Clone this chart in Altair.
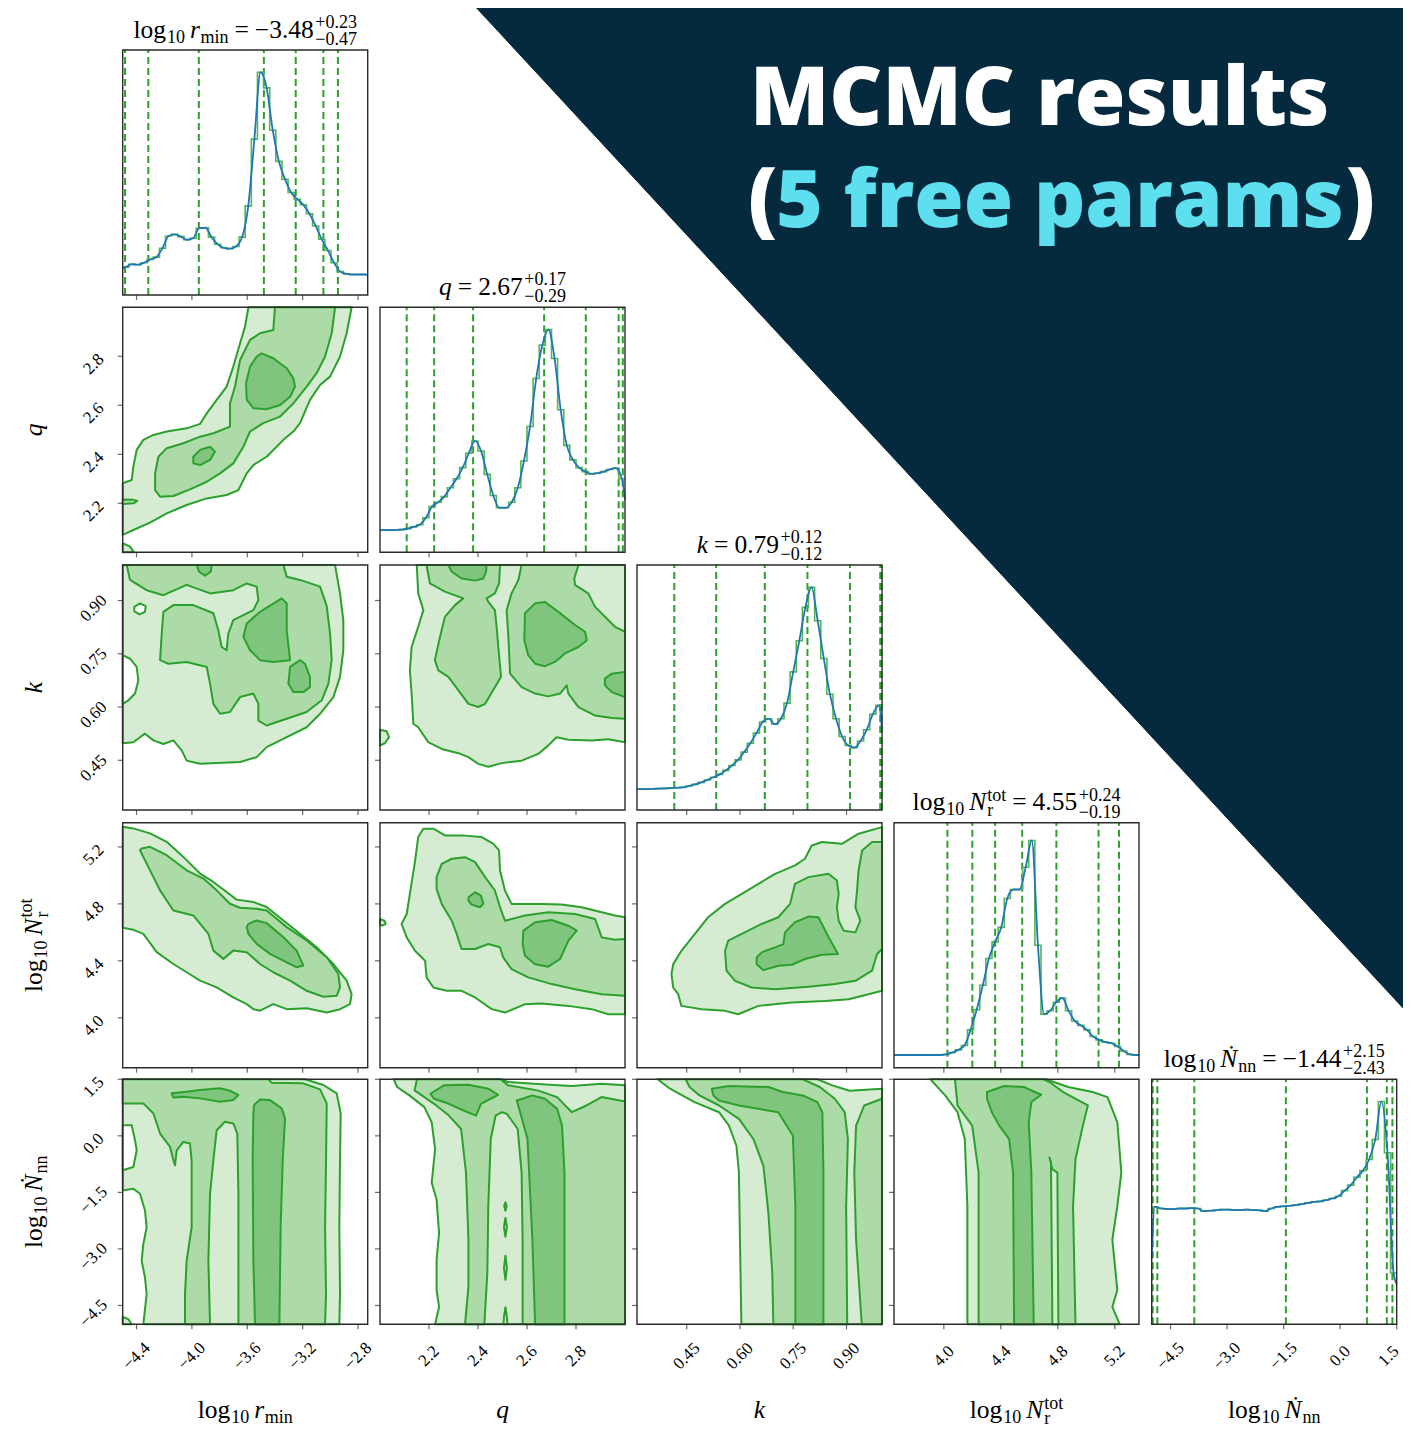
import altair as alt
import numpy as np
import pandas as pd

# ---------------- layout ----------------
W, H = 1395, 1420
PANEL = 245.0
COL_LEFT = [114.7, 372.0, 629.0, 886.0, 1143.7]
ROW_TOP = [42.0, 299.3, 557.0, 814.7, 1071.3]

NAVY = "#05293d"
CYAN = "#5ddff0"
FILLS = {"light": "#d5ecd2", "hole": "#ffffff", "medium": "#acdba8",
         "lightover": "#d5ecd2", "dark": "#80c57e"}
EDGE = "#2ca02c"
STEP = "#55b455"
KDE = "#1f77b4"
FRAME = "#2b2b2b"
SERIF = "Liberation Serif"
SANS = "Open Sans"

# ---------------- data ----------------
DOMAINS = [[-4.5, -2.73], [2.0, 3.0], [0.31, 1.0], [3.65, 5.37], [-5.0, 1.5]]
TICKS = [[-4.4, -4.0, -3.6, -3.2, -2.8],
         [2.2, 2.4, 2.6, 2.8],
         [0.45, 0.60, 0.75, 0.90],
         [4.0, 4.4, 4.8, 5.2],
         [-4.5, -3.0, -1.5, 0.0, 1.5]]
TICK_DECIMALS = [1, 1, 2, 1, 1]

MEDIAN = [-3.48, 2.67, 0.79, 4.55, -1.44]
ERR_PLUS = [0.23, 0.17, 0.12, 0.24, 2.15]
ERR_MINUS = [0.47, 0.29, 0.12, 0.19, 2.43]

VLINES = [
    [-4.483, -4.315, -3.95, -3.48, -3.25, -3.05, -2.945],
    [2.109, 2.221, 2.38, 2.67, 2.84, 2.974, 2.991],
    [0.415, 0.533, 0.67, 0.79, 0.91, 0.995, 0.999],
    [4.025, 4.20, 4.36, 4.55, 4.79, 5.086, 5.23],
    [-4.973, -4.85, -3.87, -1.44, 0.71, 1.238, 1.386],
]

HIST_RMIN = [0.125, 0.138, 0.136, 0.145, 0.16, 0.17, 0.21, 0.265, 0.272, 0.262,
             0.248, 0.255, 0.30, 0.302, 0.26, 0.228, 0.212, 0.208, 0.218, 0.26,
             0.40, 0.70, 1.0, 0.93, 0.74, 0.60, 0.52, 0.46, 0.43, 0.405,
             0.365, 0.31, 0.25, 0.20, 0.145, 0.105, 0.095, 0.092, 0.092, 0.092]
HIST_Q = [0.10, 0.10, 0.10, 0.102, 0.106, 0.114, 0.124, 0.155, 0.205, 0.225,
          0.25, 0.29, 0.33, 0.38, 0.445, 0.50, 0.455, 0.35, 0.255, 0.20,
          0.20, 0.225, 0.29, 0.41, 0.565, 0.78, 0.93, 1.0, 0.87, 0.64,
          0.48, 0.415, 0.38, 0.362, 0.352, 0.355, 0.362, 0.372, 0.378, 0.33]
HIST_K = [0.094, 0.094, 0.095, 0.096, 0.097, 0.098, 0.10, 0.102, 0.108, 0.115,
          0.124, 0.135, 0.147, 0.16, 0.178, 0.20, 0.225, 0.26, 0.30, 0.345,
          0.395, 0.41, 0.385, 0.41, 0.48, 0.62, 0.76, 0.91, 1.0, 0.85,
          0.68, 0.52, 0.41, 0.33, 0.29, 0.28, 0.31, 0.36, 0.43, 0.47]
HIST_NR = [0.057, 0.057, 0.057, 0.057, 0.057, 0.057, 0.057, 0.057, 0.06, 0.068,
           0.08, 0.10, 0.17, 0.26, 0.37, 0.49, 0.565, 0.63, 0.76, 0.80,
           0.80, 0.90, 1.02, 0.55, 0.24, 0.256, 0.294, 0.313, 0.256, 0.21,
           0.19, 0.17, 0.14, 0.125, 0.115, 0.11, 0.095, 0.075, 0.06, 0.057]
HIST_ND = [0.528, 0.52, 0.518, 0.517, 0.52, 0.52, 0.522, 0.52, 0.508, 0.51,
           0.512, 0.515, 0.515, 0.513, 0.513, 0.515, 0.513, 0.512, 0.508, 0.52,
           0.527, 0.53, 0.532, 0.535, 0.54, 0.545, 0.55, 0.552, 0.558, 0.565,
           0.575, 0.60, 0.625, 0.66, 0.69, 0.74, 0.83, 1.0, 0.77, 0.23]
HISTS = [HIST_RMIN, HIST_Q, HIST_K, HIST_NR, HIST_ND]
# smoothed-curve values at the left and right panel edges
KDE_EDGES = [(0.12, 0.09), (0.10, 0.236), (0.094, 0.355), (0.057, 0.057), (0.30, 0.18)]
HIST_TOP = 1.1

# contour regions: (level, [(x, y), ...]) in data units
CONTOURS = {
    (1, 0): [
        ("light", [(-4.5, 2.071), (-4.423, 2.091), (-4.303, 2.121), (-4.182, 2.159), (-4.038, 2.193),
                   (-3.893, 2.220), (-3.749, 2.234), (-3.664, 2.254), (-3.604, 2.322), (-3.556, 2.356),
                   (-3.460, 2.390), (-3.339, 2.459), (-3.267, 2.493), (-3.219, 2.527), (-3.147, 2.622),
                   (-3.074, 2.683), (-3.002, 2.717), (-2.930, 2.799), (-2.882, 2.894), (-2.846, 3.0),
                   (-3.592, 3.0), (-3.616, 2.921), (-3.652, 2.853), (-3.701, 2.758), (-3.749, 2.676),
                   (-3.821, 2.622), (-3.893, 2.567), (-3.941, 2.524), (-4.038, 2.506), (-4.182, 2.493),
                   (-4.278, 2.479), (-4.351, 2.459), (-4.399, 2.418), (-4.423, 2.350), (-4.435, 2.295),
                   (-4.5, 2.282)]),
        ("light", [(-4.5, 2.037), (-4.447, 2.023), (-4.418, 2.0), (-4.5, 2.0)]),
        ("medium", [(-4.5, 2.216), (-4.423, 2.214), (-4.394, 2.210), (-4.423, 2.200), (-4.5, 2.197)]),
        ("medium", [(-3.400, 3.0), (-3.412, 2.907), (-3.508, 2.894), (-3.580, 2.867), (-3.652, 2.785),
                    (-3.689, 2.676), (-3.725, 2.608), (-3.725, 2.513), (-3.845, 2.486), (-3.941, 2.472),
                    (-4.062, 2.445), (-4.182, 2.425), (-4.242, 2.390), (-4.266, 2.322), (-4.266, 2.254),
                    (-4.230, 2.227), (-4.134, 2.230), (-4.014, 2.257), (-3.893, 2.288), (-3.797, 2.322),
                    (-3.701, 2.363), (-3.628, 2.431), (-3.580, 2.493), (-3.484, 2.527), (-3.363, 2.554),
                    (-3.267, 2.608), (-3.171, 2.676), (-3.099, 2.731), (-3.038, 2.799), (-2.990, 2.894),
                    (-2.966, 3.0)]),
        ("dark", [(-3.496, 2.812), (-3.412, 2.792), (-3.315, 2.751), (-3.267, 2.710), (-3.255, 2.676),
                  (-3.291, 2.635), (-3.363, 2.601), (-3.460, 2.584), (-3.556, 2.588), (-3.604, 2.622),
                  (-3.609, 2.690), (-3.580, 2.758), (-3.532, 2.799)]),
        ("dark", [(-3.990, 2.390), (-3.941, 2.418), (-3.869, 2.431), (-3.833, 2.411), (-3.869, 2.377),
                  (-3.941, 2.356), (-3.990, 2.363)]),
    ],
    (2, 0): [
        ("light", [(-4.5, 1.0), (-2.966, 1.0), (-2.930, 0.920), (-2.906, 0.845), (-2.906, 0.760),
                   (-2.930, 0.685), (-2.978, 0.628), (-3.074, 0.581), (-3.171, 0.543), (-3.315, 0.515),
                   (-3.460, 0.487), (-3.532, 0.459), (-3.652, 0.445), (-3.941, 0.440), (-4.038, 0.449),
                   (-4.074, 0.478), (-4.134, 0.506), (-4.206, 0.496), (-4.278, 0.506), (-4.339, 0.525),
                   (-4.375, 0.515), (-4.423, 0.501), (-4.5, 0.498)]),
        ("hole", [(-4.5, 0.746), (-4.447, 0.736), (-4.399, 0.713), (-4.387, 0.675), (-4.411, 0.638),
                  (-4.459, 0.619), (-4.5, 0.609)]),
        ("hole", [(-4.416, 0.882), (-4.375, 0.892), (-4.334, 0.884), (-4.339, 0.868), (-4.380, 0.861),
                  (-4.416, 0.870)]),
        ("medium", [(-4.471, 1.0), (-4.447, 0.958), (-4.327, 0.929), (-4.206, 0.915), (-4.038, 0.944),
                    (-3.869, 0.920), (-3.701, 0.929), (-3.604, 0.948), (-3.532, 0.939), (-3.520, 0.901),
                    (-3.556, 0.873), (-3.701, 0.845), (-3.737, 0.807), (-3.749, 0.760), (-3.785, 0.769),
                    (-3.809, 0.816), (-3.845, 0.864), (-3.990, 0.887), (-4.134, 0.887), (-4.206, 0.868),
                    (-4.218, 0.807), (-4.230, 0.732), (-4.170, 0.722), (-4.038, 0.727), (-3.893, 0.713),
                    (-3.869, 0.666), (-3.845, 0.609), (-3.797, 0.581), (-3.725, 0.586), (-3.652, 0.628),
                    (-3.556, 0.638), (-3.520, 0.609), (-3.520, 0.562), (-3.460, 0.548), (-3.315, 0.567),
                    (-3.171, 0.586), (-3.062, 0.619), (-3.014, 0.666), (-2.990, 0.732), (-3.002, 0.807),
                    (-3.026, 0.884), (-3.074, 0.939), (-3.219, 0.958), (-3.315, 0.967), (-3.339, 1.0)]),
        ("dark", [(-3.604, 0.835), (-3.508, 0.868), (-3.351, 0.906), (-3.315, 0.892), (-3.315, 0.816),
                  (-3.291, 0.732), (-3.412, 0.727), (-3.508, 0.732), (-3.580, 0.760), (-3.628, 0.798)]),
        ("dark", [(-3.219, 0.732), (-3.183, 0.722), (-3.147, 0.685), (-3.147, 0.656), (-3.195, 0.642),
                  (-3.267, 0.642), (-3.303, 0.666), (-3.291, 0.713)]),
        ("dark", [(-3.965, 1.0), (-3.949, 0.981), (-3.905, 0.970), (-3.864, 0.981), (-3.857, 1.0)]),
    ],
    (3, 0): [
        ("light", [(-4.5, 5.342), (-4.423, 5.330), (-4.303, 5.295), (-4.182, 5.236), (-4.062, 5.130),
                   (-3.941, 5.013), (-3.845, 4.954), (-3.749, 4.884), (-3.677, 4.830), (-3.556, 4.813),
                   (-3.460, 4.778), (-3.339, 4.684), (-3.219, 4.590), (-3.099, 4.496), (-2.978, 4.378),
                   (-2.882, 4.261), (-2.846, 4.167), (-2.858, 4.096), (-2.930, 4.061), (-3.026, 4.038),
                   (-3.171, 4.068), (-3.315, 4.061), (-3.412, 4.096), (-3.508, 4.050), (-3.556, 4.061),
                   (-3.604, 4.096), (-3.701, 4.143), (-3.821, 4.214), (-3.941, 4.261), (-4.038, 4.320),
                   (-4.134, 4.378), (-4.254, 4.461), (-4.351, 4.590), (-4.423, 4.618), (-4.5, 4.632)]),
        ("medium", [(-4.363, 5.189), (-4.303, 5.201), (-4.182, 5.142), (-4.038, 5.036), (-3.917, 4.978),
                    (-3.821, 4.895), (-3.725, 4.801), (-3.652, 4.773), (-3.532, 4.766), (-3.460, 4.754),
                    (-3.315, 4.637), (-3.171, 4.543), (-3.026, 4.426), (-2.942, 4.308), (-2.930, 4.214),
                    (-2.954, 4.155), (-3.050, 4.148), (-3.171, 4.190), (-3.291, 4.261), (-3.412, 4.320),
                    (-3.508, 4.378), (-3.604, 4.461), (-3.701, 4.472), (-3.773, 4.414), (-3.845, 4.472),
                    (-3.881, 4.590), (-3.990, 4.719), (-4.134, 4.754), (-4.230, 4.895), (-4.327, 5.083),
                    (-4.375, 5.177)]),
        ("dark", [(-3.592, 4.660), (-3.532, 4.684), (-3.460, 4.665), (-3.339, 4.566), (-3.243, 4.472),
                  (-3.195, 4.367), (-3.243, 4.355), (-3.315, 4.390), (-3.436, 4.449), (-3.532, 4.519),
                  (-3.592, 4.590), (-3.604, 4.637)]),
    ],
    (4, 0): [
        ("light", [(-4.5, 1.5), (-3.183, 1.5), (-3.050, 1.349), (-2.954, 1.127), (-2.925, 0.594),
                   (-2.930, -0.649), (-2.935, -2.425), (-2.930, -4.201), (-2.935, -5.0), (-4.351, -5.0),
                   (-4.327, -4.201), (-4.339, -3.757), (-4.363, -3.313), (-4.351, -2.869), (-4.327, -2.425),
                   (-4.339, -1.981), (-4.375, -1.537), (-4.423, -1.404), (-4.5, -1.448)]),
        ("light", [(-4.5, -4.805), (-4.459, -4.867), (-4.435, -5.0), (-4.5, -5.0)]),
        ("hole", [(-4.5, 0.283), (-4.435, 0.283), (-4.411, -0.116), (-4.399, -0.383), (-4.423, -0.827),
                  (-4.5, -0.915)]),
        ("medium", [(-4.5, 1.5), (-3.448, 1.5), (-3.424, 1.411), (-3.195, 1.393), (-3.074, 1.234),
                    (-3.026, 0.861), (-3.031, -0.649), (-3.038, -2.425), (-3.031, -4.201), (-3.038, -5.0),
                    (-3.664, -5.0), (-3.664, -3.313), (-3.664, -1.537), (-3.672, 0.061), (-3.701, 0.328),
                    (-3.761, 0.372), (-3.821, 0.150), (-3.845, -0.649), (-3.869, -1.537), (-3.881, -3.313),
                    (-3.869, -5.0), (-4.050, -5.0), (-4.050, -4.201), (-4.038, -3.313), (-4.002, -2.425),
                    (-4.002, -0.649), (-4.014, -0.205), (-4.062, -0.161), (-4.110, -0.383), (-4.122, -0.782),
                    (-4.134, -0.649), (-4.158, -0.294), (-4.230, 0.061), (-4.278, 0.594), (-4.351, 0.861),
                    (-4.5, 0.861)]),
        ("dark", [(-3.551, 0.816), (-3.508, 0.967), (-3.436, 0.949), (-3.351, 0.727), (-3.327, 0.461),
                  (-3.344, -0.649), (-3.359, -2.425), (-3.368, -5.0), (-3.544, -5.0), (-3.556, -3.313),
                  (-3.561, -0.649), (-3.556, 0.594)]),
        ("dark", [(-4.146, 1.127), (-4.038, 1.171), (-3.941, 1.216), (-3.797, 1.260), (-3.725, 1.198),
                  (-3.664, 1.083), (-3.701, 0.949), (-3.797, 0.905), (-3.941, 0.994), (-4.062, 1.038),
                  (-4.134, 1.020)]),
    ],
    (2, 1): [
        ("light", [(2.150, 1.0), (3.0, 1.0), (3.0, 0.501), (2.932, 0.509), (2.864, 0.506), (2.769, 0.508),
                   (2.721, 0.515), (2.687, 0.492), (2.646, 0.468), (2.578, 0.449), (2.497, 0.442),
                   (2.442, 0.432), (2.401, 0.440), (2.361, 0.459), (2.320, 0.470), (2.252, 0.482),
                   (2.197, 0.501), (2.156, 0.543), (2.136, 0.553), (2.129, 0.638), (2.122, 0.703),
                   (2.129, 0.769), (2.156, 0.826), (2.177, 0.873), (2.156, 0.920)]),
        ("light", [(2.0, 0.536), (2.027, 0.532), (2.037, 0.515), (2.020, 0.498), (2.0, 0.492)]),
        ("medium", [(2.190, 1.0), (2.204, 0.948), (2.265, 0.925), (2.340, 0.906), (2.306, 0.887),
                    (2.265, 0.854), (2.245, 0.798), (2.224, 0.732), (2.238, 0.703), (2.279, 0.685),
                    (2.320, 0.647), (2.361, 0.609), (2.401, 0.600), (2.429, 0.609), (2.469, 0.656),
                    (2.494, 0.685), (2.483, 0.769), (2.476, 0.826), (2.469, 0.873), (2.442, 0.896),
                    (2.435, 0.906), (2.469, 0.920), (2.486, 0.948), (2.490, 1.0)]),
        ("medium", [(2.578, 1.0), (2.565, 0.958), (2.537, 0.920), (2.517, 0.873), (2.524, 0.798),
                    (2.531, 0.694), (2.578, 0.656), (2.633, 0.638), (2.687, 0.630), (2.735, 0.638),
                    (2.762, 0.661), (2.769, 0.638), (2.810, 0.600), (2.878, 0.576), (2.946, 0.569),
                    (3.0, 0.567), (3.0, 0.812), (2.959, 0.826), (2.878, 0.882), (2.850, 0.920),
                    (2.796, 0.944), (2.793, 0.962), (2.810, 1.0)]),
        ("dark", [(2.279, 1.0), (2.293, 0.981), (2.333, 0.962), (2.388, 0.956), (2.422, 0.962),
                  (2.433, 0.981), (2.435, 1.0)]),
        ("dark", [(2.592, 0.864), (2.633, 0.892), (2.673, 0.896), (2.728, 0.868), (2.796, 0.831),
                  (2.837, 0.812), (2.844, 0.788), (2.810, 0.769), (2.755, 0.751), (2.714, 0.727),
                  (2.673, 0.715), (2.633, 0.722), (2.605, 0.746), (2.589, 0.788)]),
        ("dark", [(3.0, 0.699), (2.946, 0.694), (2.918, 0.680), (2.918, 0.661), (2.946, 0.642), (3.0, 0.628)]),
    ],
    (3, 1): [
        ("light", [(2.143, 5.10), (2.156, 5.269), (2.177, 5.328), (2.218, 5.328), (2.265, 5.281),
                   (2.333, 5.281), (2.415, 5.269), (2.463, 5.222), (2.486, 5.175), (2.490, 5.034),
                   (2.510, 4.894), (2.537, 4.800), (2.660, 4.800), (2.741, 4.795), (2.823, 4.776),
                   (2.905, 4.741), (2.959, 4.718), (3.0, 4.706), (3.0, 4.025), (2.932, 4.025),
                   (2.864, 4.061), (2.769, 4.084), (2.660, 4.101), (2.592, 4.096), (2.510, 4.037),
                   (2.456, 4.061), (2.388, 4.143), (2.333, 4.190), (2.272, 4.190), (2.218, 4.213),
                   (2.190, 4.284), (2.184, 4.401), (2.143, 4.471), (2.109, 4.565), (2.088, 4.659),
                   (2.109, 4.729), (2.122, 4.870)]),
        ("light", [(2.0, 4.694), (2.018, 4.682), (2.023, 4.659), (2.007, 4.647), (2.0, 4.652)]),
        ("medium", [(2.231, 4.988), (2.252, 5.081), (2.293, 5.117), (2.347, 5.128), (2.388, 5.093),
                    (2.429, 4.988), (2.469, 4.894), (2.490, 4.776), (2.510, 4.682), (2.592, 4.718),
                    (2.687, 4.741), (2.796, 4.729), (2.878, 4.694), (2.905, 4.565), (2.959, 4.549),
                    (3.0, 4.553), (3.0, 4.155), (2.905, 4.166), (2.796, 4.201), (2.701, 4.237),
                    (2.605, 4.284), (2.537, 4.342), (2.503, 4.424), (2.490, 4.495), (2.442, 4.518),
                    (2.388, 4.483), (2.333, 4.483), (2.313, 4.589), (2.293, 4.682), (2.252, 4.800),
                    (2.231, 4.905)]),
        ("dark", [(2.585, 4.612), (2.633, 4.671), (2.701, 4.687), (2.769, 4.647), (2.803, 4.612),
                  (2.769, 4.542), (2.735, 4.413), (2.687, 4.359), (2.633, 4.377), (2.592, 4.436),
                  (2.582, 4.518)]),
        ("dark", [(2.361, 4.847), (2.388, 4.882), (2.412, 4.858), (2.422, 4.800), (2.408, 4.776),
                  (2.374, 4.795), (2.361, 4.823)]),
    ],
    (3, 2): [
        ("light", [(0.407, 4.307), (0.412, 4.377), (0.435, 4.471), (0.473, 4.589), (0.510, 4.706),
                   (0.558, 4.800), (0.605, 4.870), (0.652, 4.941), (0.699, 5.011), (0.755, 5.070),
                   (0.783, 5.117), (0.802, 5.210), (0.831, 5.234), (0.887, 5.222), (0.934, 5.293),
                   (1.0, 5.339), (1.0, 4.190), (0.962, 4.166), (0.906, 4.131), (0.840, 4.119),
                   (0.746, 4.108), (0.652, 4.084), (0.595, 4.025), (0.558, 4.049), (0.492, 4.061),
                   (0.435, 4.084), (0.426, 4.166), (0.412, 4.213)]),
        ("medium", [(0.558, 4.471), (0.567, 4.542), (0.605, 4.589), (0.661, 4.659), (0.708, 4.706),
                    (0.741, 4.800), (0.755, 4.941), (0.793, 4.988), (0.849, 5.011), (0.873, 4.964),
                    (0.878, 4.870), (0.873, 4.776), (0.878, 4.682), (0.892, 4.612), (0.925, 4.600),
                    (0.939, 4.682), (0.925, 4.776), (0.929, 4.870), (0.934, 5.034), (0.944, 5.175),
                    (0.972, 5.234), (1.0, 5.234), (1.0, 4.483), (0.986, 4.448), (0.972, 4.331),
                    (0.925, 4.260), (0.868, 4.237), (0.793, 4.218), (0.699, 4.201), (0.633, 4.213),
                    (0.586, 4.260), (0.562, 4.331)]),
        ("dark", [(0.647, 4.424), (0.661, 4.460), (0.699, 4.495), (0.722, 4.518), (0.727, 4.600),
                  (0.755, 4.671), (0.793, 4.711), (0.821, 4.706), (0.845, 4.589), (0.863, 4.506),
                  (0.876, 4.448), (0.831, 4.443), (0.783, 4.413), (0.746, 4.373), (0.708, 4.366),
                  (0.666, 4.335), (0.647, 4.377)]),
    ],
    (4, 1): [
        ("light", [(2.056, 1.5), (2.492, 1.5), (2.522, 1.429), (2.693, 1.358), (2.783, 1.322),
                   (2.904, 1.384), (3.0, 1.340), (3.0, -5.0), (2.225, -5.0), (2.241, -4.537),
                   (2.231, -4.092), (2.231, -3.290), (2.241, -2.578), (2.231, -1.688), (2.211, -1.242),
                   (2.225, -0.352), (2.211, 0.360), (2.181, 0.761), (2.120, 1.073), (2.070, 1.295)]),
        ("medium", [(2.151, 1.5), (2.492, 1.5), (2.522, 1.34), (2.643, 1.206), (2.723, 1.028),
                    (2.783, 0.627), (2.843, 0.805), (2.904, 1.028), (3.0, 0.912), (3.0, -5.0),
                    (2.582, -5.0), (2.582, -2.756), (2.578, -0.975), (2.562, 0.182), (2.518, 0.583),
                    (2.498, 0.627), (2.472, 0.538), (2.452, -0.085), (2.442, -1.866), (2.438, -3.647),
                    (2.426, -5.0), (2.347, -5.0), (2.361, -4.0), (2.361, -2.756), (2.351, -0.975),
                    (2.331, 0.182), (2.281, 0.538), (2.221, 0.850), (2.141, 1.206)]),
        ("lightover", [(2.512, -1.76), (2.517, -1.87), (2.512, -1.99), (2.507, -1.87)]),
        ("lightover", [(2.512, -2.18), (2.518, -2.42), (2.512, -2.68), (2.506, -2.42)]),
        ("lightover", [(2.512, -3.18), (2.518, -3.5), (2.512, -3.82), (2.506, -3.5)]),
        ("lightover", [(2.512, -4.55), (2.518, -4.8), (2.52, -5.0), (2.504, -5.0), (2.506, -4.8)]),
        ("dark", [(2.582, 0.984), (2.622, 1.073), (2.673, 0.984), (2.723, 0.716), (2.743, 0.271),
                  (2.753, -0.975), (2.753, -5.0), (2.633, -5.0), (2.622, -2.756), (2.602, -0.085),
                  (2.572, 0.627), (2.558, 0.939)]),
        ("dark", [(2.205, 1.117), (2.261, 1.340), (2.361, 1.358), (2.442, 1.251), (2.482, 1.090),
                  (2.452, 0.984), (2.412, 0.850), (2.392, 0.538), (2.341, 0.672), (2.281, 0.850),
                  (2.221, 0.984)]),
    ],
    (4, 2): [
        ("light", [(0.368, 1.5), (0.818, 1.5), (0.860, 1.340), (0.909, 1.198), (1.0, 1.251), (1.0, -5.0),
                   (0.604, -5.0), (0.600, -2.756), (0.597, -0.975), (0.590, -0.263), (0.569, 0.271),
                   (0.541, 0.627), (0.472, 0.895), (0.403, 1.251)]),
        ("medium", [(0.447, 1.5), (0.777, 1.5), (0.825, 1.295), (0.867, 0.984), (0.895, 0.627),
                    (0.904, -0.085), (0.899, -1.866), (0.902, -5.0), (0.694, -5.0), (0.691, -3.647),
                    (0.680, -2.044), (0.673, -1.421), (0.666, -0.797), (0.638, -0.085), (0.597, 0.449),
                    (0.541, 0.805), (0.486, 1.073), (0.458, 1.295)]),
        ("medium", [(1.0, 0.984), (0.950, 0.805), (0.927, 0.271), (0.922, -0.975), (0.927, -2.756),
                    (0.943, -5.0), (1.0, -5.0)]),
        ("dark", [(0.521, 1.251), (0.569, 1.322), (0.680, 1.295), (0.721, 1.162), (0.777, 1.073),
                  (0.818, 0.895), (0.832, 0.627), (0.835, -0.975), (0.835, -5.0), (0.756, -5.0),
                  (0.756, -1.866), (0.749, 0.004), (0.708, 0.627), (0.597, 0.805), (0.541, 0.939),
                  (0.525, 1.073)]),
    ],
    (4, 3): [
        ("light", [(3.906, 1.5), (4.717, 1.5), (4.873, 1.295), (5.045, 1.162), (5.149, 1.028),
                   (5.218, 0.360), (5.246, -0.975), (5.218, -1.866), (5.183, -2.756), (5.218, -4.092),
                   (5.183, -4.537), (5.235, -5.0), (4.165, -5.0), (4.165, -1.866), (4.147, -0.085),
                   (4.096, 0.627), (4.009, 1.073)]),
        ("medium", [(4.078, 1.5), (4.700, 1.5), (4.741, 1.429), (4.838, 1.162), (5.011, 0.805),
                    (4.976, 0.271), (4.924, -0.619), (4.907, -1.866), (4.924, -5.0), (4.244, -5.0),
                    (4.244, -0.975), (4.199, 0.271), (4.096, 0.805)]),
        ("lightover", [(4.741, -0.575), (4.762, -0.886), (4.797, -0.975), (4.804, -5.0), (4.762, -5.0),
                       (4.752, -0.7)]),
        ("dark", [(4.303, 1.162), (4.424, 1.322), (4.562, 1.295), (4.683, 1.090), (4.614, 0.895),
                  (4.596, 0.360), (4.614, -0.975), (4.631, -5.0), (4.493, -5.0), (4.486, -0.975),
                  (4.458, -0.085), (4.389, 0.271), (4.337, 0.627), (4.303, 0.984)]),
    ],
}

BIG_TEXT = [
    ("MCMC results", 0.5319, 0.0824, "white", "left", 82),
    ("(", 0.5305, 0.1542, "white", "left", 82),
    ("5 free params", 0.5505, 0.1542, CYAN, "left", 80),
    (")", 0.9799, 0.1542, "white", "right", 82),
]
TRIANGLE = [(0.3359, 0.0), (1.0, 0.0), (1.0, 0.7042)]

# ---------------- math-label typesetting ----------------
MAIN, SUB = 25.5, 18.0
TICK_FONT = 17
CW = {".": 0.25, "+": 0.564, "−": 0.564, "=": 0.564, "l": 0.278, "o": 0.5, "g": 0.5, "m": 0.778,
      "i": 0.278, "n": 0.5, "t": 0.278, "r": 0.333, " ": 0.25}
CW_IT = {"r": 0.389, "q": 0.5, "k": 0.444, "N": 0.667, "Ṅ": 0.667}


def tw(s, size, it=False):
    return size * sum((CW_IT[ch] if (it and ch in CW_IT) else CW.get(ch, 0.5)) for ch in s)


def T(s, it=False):
    return ("t", s, it, MAIN, 0.0)


def S(s):
    return ("t", s, False, SUB, 5.0)


def G(px):
    return ("g", px)


def STACK(hi, lo, hs, ls):
    return ("s", hi, lo, SUB, hs, ls)


def var_spec(c):
    if c == 0:
        return [T("log"), G(1), S("10"), G(5), T("r", True), G(0.5), S("min")]
    if c == 1:
        return [T("q", True)]
    if c == 2:
        return [T("k", True)]
    if c == 3:
        return [T("log"), G(1), S("10"), G(5), T("N", True), G(1), STACK("tot", "r", -9.5, 6.0)]
    return [T("log"), G(1), S("10"), G(5), T("Ṅ", True), G(1), S("nn")]


def typeset(spec):
    segs, x = [], 0.0
    for item in spec:
        if item[0] == "g":
            x += item[1]
        elif item[0] == "t":
            _, s, it, size, sh = item
            segs.append((s, x, sh, size, it))
            x += tw(s, size, it)
        else:
            _, hi, lo, size, hs, ls = item
            segs.append((hi, x, hs, size, False))
            segs.append((lo, x, ls, size, False))
            x += max(tw(hi, size), tw(lo, size))
    return segs, x


def num_str(v):
    return ("−" if v < 0 else "") + f"{abs(v):.2f}"


def tick_str(v, d):
    return f"{v:.{d}f}".replace("-", "−")


# ---------------- helpers ----------------
def xscale(c):
    return alt.Scale(domain=DOMAINS[c], range=[COL_LEFT[c], COL_LEFT[c] + PANEL], nice=False, zero=False)


def yscale(r, hist=False):
    dom = [0.0, HIST_TOP] if hist else DOMAINS[r]
    return alt.Scale(domain=dom, range=[ROW_TOP[r] + PANEL, ROW_TOP[r]], nice=False, zero=False)


def enc(xs, ys, xf="x:Q", yf="y:Q"):
    return dict(x=alt.X(xf, scale=xs, axis=None), y=alt.Y(yf, scale=ys, axis=None))


def text_layer(ax, ay, xs, ys, text, dx, dy, size, italic=False, angle=0):
    df = pd.DataFrame({"x": [ax], "y": [ay]})
    kw = dict(text=text, dx=dx, dy=dy, fontSize=size, font=SERIF,
              fontStyle="italic" if italic else "normal", align="left",
              baseline="alphabetic", color="black")
    if angle:
        kw["angle"] = angle
    return alt.Chart(df).mark_text(**kw).encode(**enc(xs, ys))


def label_layers(spec, ax, ay, xs, ys, base_across, rotated=False):
    segs, total = typeset(spec)
    start = PANEL / 2 - total / 2
    out = []
    for (s, pos, sh, size, it) in segs:
        out.append(text_layer(ax, ay, xs, ys, s, start + pos, base_across + sh, size, it,
                              angle=270 if rotated else 0))
    return out


def build_panel(r, c):
    hist = (r == c)
    xs, ys = xscale(c), yscale(r, hist)
    ydom = [0.0, HIST_TOP] if hist else DOMAINS[r]
    layers = []
    if hist:
        vals = HISTS[c]
        edges = np.linspace(DOMAINS[c][0], DOMAINS[c][1], len(vals) + 1)
        centers = 0.5 * (edges[:-1] + edges[1:])
        step_df = pd.DataFrame({"x": edges, "y": vals + [vals[-1]]})
        kde_df = pd.DataFrame({"x": [edges[0]] + list(centers) + [edges[-1]],
                               "y": [KDE_EDGES[c][0]] + vals + [KDE_EDGES[c][1]]})
        vl_df = pd.DataFrame({"v": VLINES[c], "y0": 0.0, "y1": HIST_TOP})
        layers.append(alt.Chart(vl_df).mark_rule(color=EDGE, strokeWidth=2, strokeDash=[7, 4]).encode(
            x=alt.X("v:Q", scale=xs, axis=None), y=alt.Y("y0:Q", scale=ys, axis=None), y2="y1:Q"))
        layers.append(alt.Chart(step_df).mark_line(interpolate="step-after", color=STEP,
                                                   strokeWidth=1.6).encode(**enc(xs, ys)))
        layers.append(alt.Chart(kde_df).mark_line(interpolate="monotone", color=KDE,
                                                  strokeWidth=1.8).encode(**enc(xs, ys)))
        spec = var_spec(c) + [G(6), T("="), G(6), T(num_str(MEDIAN[c])), G(1.5),
                              STACK("+" + f"{ERR_PLUS[c]:.2f}", "−" + f"{ERR_MINUS[c]:.2f}", -9.5, 7.5)]
        layers += label_layers(spec, DOMAINS[c][0], HIST_TOP, xs, ys, -12.5)
    else:
        polys = CONTOURS[(r, c)]
        for level in ["light", "hole", "medium", "lightover", "dark"]:
            rows = []
            for pid, (lv, pts) in enumerate(polys):
                if lv != level:
                    continue
                for i, (px, py) in enumerate(pts):
                    rows.append({"x": px, "y": py, "pid": pid, "i": i})
            if not rows:
                continue
            layers.append(alt.Chart(pd.DataFrame(rows)).mark_line(
                interpolate="linear-closed", fill=FILLS[level], stroke=EDGE, strokeWidth=2.0,
                strokeJoin="round").encode(detail="pid:N", order="i:Q", **enc(xs, ys)))
    # frame
    fdf = pd.DataFrame({"x0": [DOMAINS[c][0]], "x1": [DOMAINS[c][1]], "y0": [ydom[0]], "y1": [ydom[1]]})
    layers.append(alt.Chart(fdf).mark_rect(fill="transparent", stroke=FRAME, strokeWidth=1.4).encode(
        x=alt.X("x0:Q", scale=xs, axis=None), x2="x1:Q",
        y=alt.Y("y0:Q", scale=ys, axis=None), y2="y1:Q"))
    # ticks (outward) and tick labels
    xt = pd.DataFrame({"x": TICKS[c], "y": ydom[0],
                       "label": [tick_str(v, TICK_DECIMALS[c]) for v in TICKS[c]]})
    layers.append(alt.Chart(xt).mark_tick(orient="vertical", size=5, thickness=1.2, yOffset=2.5,
                                          color=FRAME).encode(**enc(xs, ys)))
    if r == 4:
        # labels that would run past the right page edge are nudged inward
        edge = xt["x"] >= DOMAINS[c][1] - 0.01 * (DOMAINS[c][1] - DOMAINS[c][0])
        for sub_df, nudge in [(xt[~edge], 0), (xt[edge], -8)]:
            if len(sub_df) == 0:
                continue
            layers.append(alt.Chart(sub_df).mark_text(
                angle=315, align="center", baseline="middle", yOffset=32, xOffset=nudge,
                font=SERIF, fontSize=TICK_FONT, color="black").encode(text="label:N", **enc(xs, ys)))
    if not hist:
        yt = pd.DataFrame({"x": DOMAINS[c][0], "y": TICKS[r],
                           "label": [tick_str(v, TICK_DECIMALS[r]) for v in TICKS[r]]})
        layers.append(alt.Chart(yt).mark_tick(orient="horizontal", size=5, thickness=1.2, xOffset=-2.5,
                                              color=FRAME).encode(**enc(xs, ys)))
        if c == 0:
            layers.append(alt.Chart(yt).mark_text(angle=315, align="center", baseline="middle",
                                                  xOffset=-29, yOffset=8, font=SERIF, fontSize=TICK_FONT,
                                                  color="black").encode(text="label:N", **enc(xs, ys)))
    # axis titles
    if r == 4:
        layers += label_layers(var_spec(c), DOMAINS[c][0], ydom[0], xs, ys, 94)
    if c == 0 and r > 0:
        layers += label_layers(var_spec(r), DOMAINS[0][0], DOMAINS[r][0], xs, ys, -81, rotated=True)
    return alt.layer(*layers)


# ---------------- background ----------------
FX = alt.Scale(domain=[0, 1], range=[0, W], nice=False, zero=False)
FY = alt.Scale(domain=[0, 1], range=[0, H], nice=False, zero=False)
tri_df = pd.DataFrame({"x": [p[0] for p in TRIANGLE], "y": [p[1] for p in TRIANGLE],
                       "i": list(range(len(TRIANGLE)))})
bg_layers = [alt.Chart(tri_df).mark_line(interpolate="linear-closed", fill=NAVY, stroke=NAVY,
                                         strokeWidth=1).encode(order="i:Q", **enc(FX, FY))]
for (t, fx, fy, col, al, size) in BIG_TEXT:
    bg_layers.append(alt.Chart(pd.DataFrame({"x": [fx], "y": [fy]})).mark_text(
        text=t, font=SANS, fontWeight=800, fontSize=size, color=col, align=al,
        baseline="alphabetic").encode(**enc(FX, FY)))
bg = alt.layer(*bg_layers)

panels = []
for r in range(5):
    for c in range(r + 1):
        panels.append(build_panel(r, c))

chart = alt.layer(bg, *panels).resolve_scale(x="independent", y="independent").properties(
    width=W, height=H, padding=0, autosize=alt.AutoSizeParams(type="none")
).configure_view(stroke="transparent")

chart.save("out.html", embed_options={"renderer": "svg", "actions": False})
